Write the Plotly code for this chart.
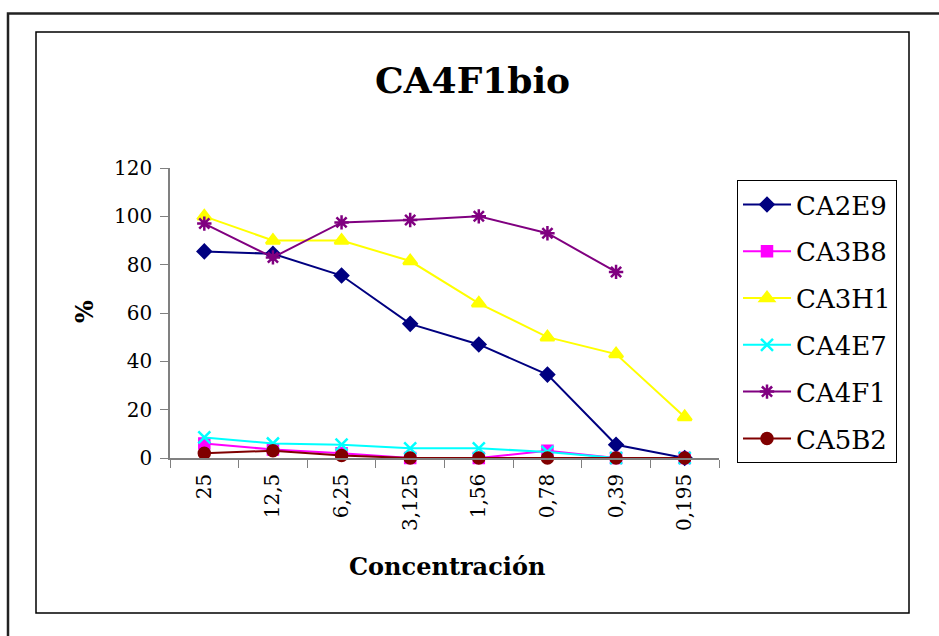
import plotly.graph_objects as go

W, H = 939, 636

concentraciones = ["25", "12,5", "6,25", "3,125", "1,56", "0,78", "0,39", "0,195"]

CA2E9 = [85.5, 84.5, 75.5, 55.5, 47, 34.5, 5.5, 0]
CA3B8 = [6, 3.5, 2, 0, 0, 3, 0, 0]
CA3H1 = [100, 90, 90, 81.5, 64, 50, 43, 17]
CA4E7 = [8.5, 6, 5.5, 4, 4, 2.5, 0, 0]
CA4F1 = [97, 83, 97.5, 98.5, 100, 93, 77, None]
CA5B2 = [2, 3, 1, 0, 0, 0, 0, 0]

series_names = ["CA2E9", "CA3B8", "CA3H1", "CA4E7", "CA4F1", "CA5B2"]
series_values = [CA2E9, CA3B8, CA3H1, CA4E7, CA4F1, CA5B2]
series_colors = ["#000080", "#FF00FF", "#FFFF00", "#00FFFF", "#800080", "#800000"]
series_symbols = ["diamond", "square", "triangle-up", "x-thin-open", "asterisk-open", "circle"]
series_sizes = [10, 10, 12, 12, 12, 11]

FONT = "DejaVu Serif"


def px(x):
    return x / W


def py(y):
    return (H - y) / H


fig = go.Figure()
for name, vals, col, sym, sz in zip(series_names, series_values, series_colors,
                                     series_symbols, series_sizes):
    fig.add_trace(go.Scatter(
        x=concentraciones, y=vals, name=name, mode="lines+markers",
        line=dict(color=col, width=2),
        marker=dict(symbol=sym, size=sz, color=col, line=dict(color=col, width=2.5)),
        cliponaxis=False, legendgroup=name, connectgaps=False,
    ))

x0p, x1p, y0p, y1p = 170, 719, 458, 168

fig.update_layout(
    width=W, height=H,
    margin=dict(l=0, r=0, t=0, b=0, pad=0, autoexpand=False),
    paper_bgcolor="white", plot_bgcolor="white",
    font=dict(family=FONT, color="black"),
    showlegend=True,
    legend=dict(
        x=px(737), y=py(180), xanchor="left", yanchor="top",
        bordercolor="black", borderwidth=1, bgcolor="white",
        font=dict(family=FONT, size=26, color="black"),
        tracegroupgap=10, itemwidth=48,
    ),
    xaxis=dict(
        domain=[px(x0p), px(x1p)],
        type="category", range=[-0.5, 7.5],
        showline=True, linecolor="#808080", linewidth=1.5,
        ticks="outside", tickson="boundaries", ticklen=8, tickcolor="#808080",
        tickangle=-90, tickfont=dict(family=FONT, size=20, color="black"),
        ticklabelstandoff=6,
        showgrid=False, zeroline=False, automargin=False,
    ),
    yaxis=dict(
        domain=[py(y0p), py(y1p)],
        range=[0, 120], tickvals=[0, 20, 40, 60, 80, 100, 120],
        showline=True, linecolor="#808080", linewidth=1.5,
        ticks="outside", ticklen=8, tickcolor="#808080",
        tickfont=dict(family=FONT, size=20, color="black"),
        ticklabelstandoff=4,
        showgrid=False, zeroline=False, automargin=False,
    ),
    shapes=[
        dict(type="rect", xref="paper", yref="paper",
             x0=px(8), y0=-0.05, x1=1.05, y1=py(13.5),
             line=dict(color="#222222", width=2.5)),
        dict(type="rect", xref="paper", yref="paper",
             x0=px(36), y0=py(613), x1=px(909), y1=py(32),
             line=dict(color="black", width=1.5)),
    ],
    annotations=[
        dict(text="<b>CA4F1bio</b>", x=px(472), y=py(80), xref="paper", yref="paper",
             showarrow=False, xanchor="center", yanchor="middle",
             font=dict(family=FONT, size=36, color="black")),
        dict(text="<b>Concentración</b>", x=px(447), y=py(566), xref="paper", yref="paper",
             showarrow=False, xanchor="center", yanchor="middle",
             font=dict(family=FONT, size=24, color="black")),
        dict(text="<b>%</b>", x=px(84), y=py(312), xref="paper", yref="paper",
             showarrow=False, xanchor="center", yanchor="middle", textangle=-90,
             font=dict(family=FONT, size=24, color="black")),
    ],
)

fig.write_html("out.html")
